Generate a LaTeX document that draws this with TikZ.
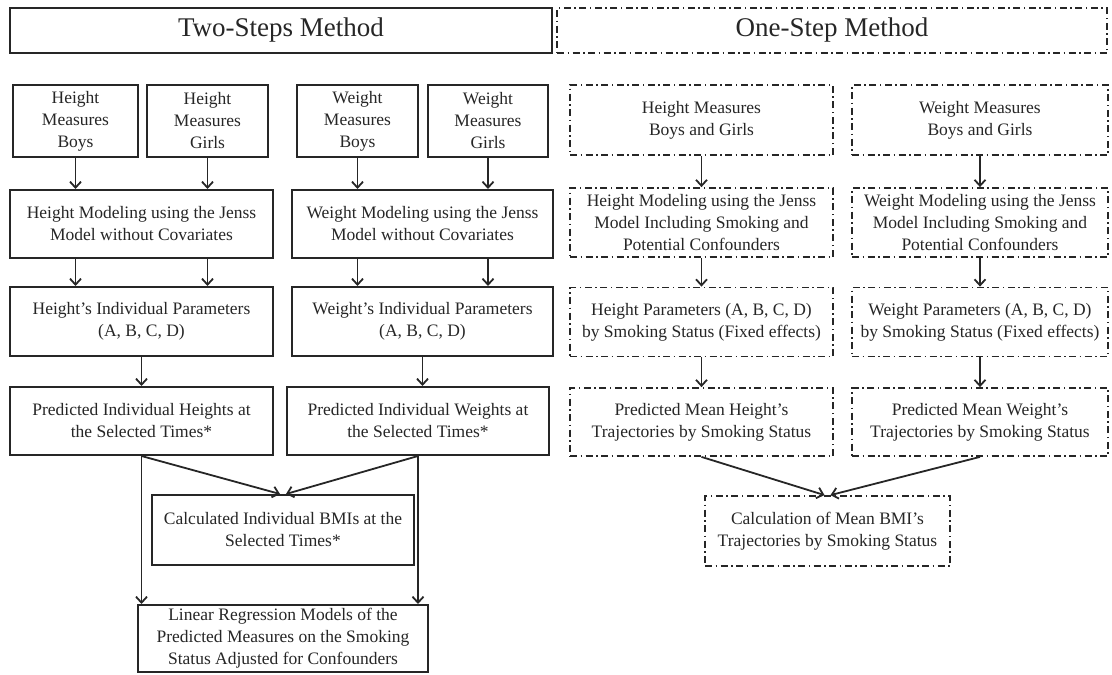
\documentclass[tikz,border=0pt]{standalone}
\usepackage{fontspec}
\setmainfont{Liberation Serif}
\usetikzlibrary{arrows.meta}
\begin{document}
\begin{tikzpicture}[x=1pt,y=-1pt,
  box/.style={draw=black!85,line width=2pt,align=center,inner sep=0pt,text=black!85,font=\fontsize{17.5}{22}\selectfont},
  dbox/.style={box,line width=1.8pt,dash pattern=on 7pt off 3.5pt on 1.5pt off 3.5pt},
  hdr/.style={font=\fontsize{27}{30}\selectfont},
  arr/.style={draw=black!85,line width=1.8pt,-{Straight Barb[length=6pt,width=11pt,line width=1.8pt]}}]
\useasboundingbox (0,0) rectangle (1112,675);
% headers
\node[box,hdr,minimum width=542pt,minimum height=45pt] (hdrL) at (281,30.5) {Two-Steps Method};
\node[dbox,hdr,minimum width=550pt,minimum height=45pt] (hdrR) at (832,30.5) {One-Step Method};
% two-steps
\node[box,minimum width=125pt,minimum height=72pt] (hmb) at (75.5,121) {Height\\Measures\\Boys};
\node[box,minimum width=121pt,minimum height=72pt] (hmg) at (207.5,121) {Height\\Measures\\Girls};
\node[box,minimum width=121pt,minimum height=72pt] (wmb) at (357.5,121) {Weight\\Measures\\Boys};
\node[box,minimum width=120pt,minimum height=72pt] (wmg) at (488,121) {Weight\\Measures\\Girls};
\node[box,minimum width=263pt,minimum height=68pt] (hmod) at (141.5,224) {Height Modeling using the Jenss\\Model without Covariates};
\node[box,minimum width=261pt,minimum height=68pt] (wmod) at (422.5,224) {Weight Modeling using the Jenss\\Model without Covariates};
\node[box,minimum width=263pt,minimum height=69pt] (hpar) at (141.5,321.5) {Height's Individual Parameters\\(A, B, C, D)};
\node[box,minimum width=261pt,minimum height=69pt] (wpar) at (422.5,321.5) {Weight's Individual Parameters\\(A, B, C, D)};
\node[box,minimum width=263pt,minimum height=68pt] (hpred) at (141.5,421) {Predicted Individual Heights at\\the Selected Times*};
\node[box,minimum width=262pt,minimum height=68pt] (wpred) at (418,421) {Predicted Individual Weights at\\the Selected Times*};
\node[box,minimum width=262pt,minimum height=70pt] (bmi) at (283,530) {Calculated Individual BMIs at the\\Selected Times*};
\node[box,minimum width=290pt,minimum height=67pt] (lin) at (283,638.5) {Linear Regression Models of the\\Predicted Measures on the Smoking\\Status Adjusted for Confounders};
% one-step
\node[dbox,minimum width=263pt,minimum height=70pt] (rhm) at (701.5,120) {Height Measures\\Boys and Girls};
\node[dbox,minimum width=256pt,minimum height=70pt] (rwm) at (980,120) {Weight Measures\\Boys and Girls};
\node[dbox,minimum width=263pt,minimum height=69pt] (rhmod) at (701.5,222.5) {Height Modeling using the Jenss\\Model Including Smoking and\\Potential Confounders};
\node[dbox,minimum width=256pt,minimum height=69pt] (rwmod) at (980,222.5) {Weight Modeling using the Jenss\\Model Including Smoking and\\Potential Confounders};
\node[dbox,minimum width=263pt,minimum height=69pt] (rhpar) at (701.5,322) {Height Parameters (A, B, C, D)\\by Smoking Status (Fixed effects)};
\node[dbox,minimum width=256pt,minimum height=69pt] (rwpar) at (980,322) {Weight Parameters (A, B, C, D)\\by Smoking Status (Fixed effects)};
\node[dbox,minimum width=263pt,minimum height=68pt] (rhpred) at (701.5,422) {Predicted Mean Height's\\Trajectories by Smoking Status};
\node[dbox,minimum width=256pt,minimum height=68pt] (rwpred) at (980,422) {Predicted Mean Weight's\\Trajectories by Smoking Status};
\node[dbox,minimum width=245pt,minimum height=70pt] (calc) at (827.5,531) {Calculation of Mean BMI's\\Trajectories by Smoking Status};
% arrows left
\foreach \n in {hmb,hmg}{
  \draw[arr] (\n.south) -- (\n.south |- hmod.north);
  \draw[arr] (\n.south |- hmod.south) -- (\n.south |- hpar.north);
}
\foreach \n in {wmb,wmg}{
  \draw[arr] (\n.south) -- (\n.south |- wmod.north);
  \draw[arr] (\n.south |- wmod.south) -- (\n.south |- wpar.north);
}
\draw[arr] (hpar.south) -- (hpar.south |- hpred.north);
\draw[arr] (wpar.south) -- (wpar.south |- wpred.north);
\draw[arr] (hpred.south) -- ([xshift=-3pt]bmi.north);
\draw[arr] (wpred.south) -- ([xshift=3pt]bmi.north);
\draw[arr] (hpred.south) -- (hpred.south |- lin.north);
\draw[arr] (wpred.south) -- (wpred.south |- lin.north);
% arrows right
\foreach \a/\b in {rhm/rhmod,rhmod/rhpar,rhpar/rhpred,rwm/rwmod,rwmod/rwpar,rwpar/rwpred}{
  \draw[arr] (\a.south) -- (\b.north);
}
\draw[arr] (rhpred.south) -- ([xshift=-3pt]calc.north);
\draw[arr] (rwpred.south) -- ([xshift=3pt]calc.north);
\end{tikzpicture}
\end{document}
